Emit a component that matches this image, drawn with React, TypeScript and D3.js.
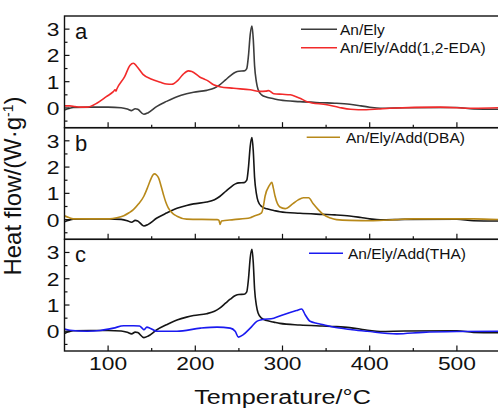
import React from "react";
import * as d3 from "d3";

// ---- data ----
const anEly: [number, number][] = [
  [50, -0.08], [55, -0.02], [60, 0.02], [80, 0.03], [100, 0.03], [115, 0.01], [122, -0.04],
  [127, -0.1], [131, -0.03], [134, -0.05], [141, -0.24], [146, -0.18], [156, 0.06], [167, 0.25],
  [179, 0.43], [190, 0.54], [198, 0.6], [213, 0.67], [222, 0.76], [228, 0.88], [235, 1.08],
  [240, 1.22], [246, 1.36], [250, 1.4], [256, 1.41], [259, 1.5], [261, 2.0], [263, 2.8],
  [265, 3.12], [266.5, 2.6], [268, 1.6], [270, 1.0], [272, 0.7], [276, 0.5], [282, 0.41],
  [290, 0.35], [297, 0.3], [320, 0.24], [346, 0.2], [360, 0.18], [377, 0.14], [390, 0.08],
  [400, 0.03], [412, -0.01], [440, 0.01], [500, 0.02], [519, -0.04], [550, -0.05],
];

const eda: [number, number][] = [
  [50, 0.08], [56, 0.08], [62, 0.05], [68, 0.03], [76, 0.03], [87, 0.18], [98, 0.43],
  [106, 0.62], [108, 0.69], [109, 0.64], [110, 0.72], [119, 1.19], [125, 1.62], [129, 1.7],
  [133, 1.58], [140, 1.28], [150, 1.09], [160, 0.98], [167, 0.91], [173, 0.9], [180, 1.05],
  [186, 1.28], [192, 1.41], [196, 1.39], [205, 1.18], [210, 1.1], [214, 1.04], [221, 0.88],
  [228, 0.81], [244, 0.75], [263, 0.69], [274, 0.63], [281, 0.64], [284, 0.66], [290, 0.54],
  [300, 0.52], [309, 0.5], [315, 0.44], [320, 0.37], [328, 0.24], [351, 0.12], [365, 0.02],
  [378, -0.05], [396, -0.07], [410, -0.04], [423, -0.01], [481, 0.03], [519, -0.01], [550, 0.01],
];

const dba: [number, number][] = [
  [50, 0.15], [55, 0.08], [60, 0.03], [102, 0.03], [110, 0.07], [118, 0.15], [124, 0.26],
  [129, 0.38], [135, 0.6], [141, 0.89], [145, 1.2], [148, 1.46], [151, 1.68], [153, 1.74],
  [155.5, 1.7], [158, 1.58], [161, 1.25], [163.5, 0.95], [166, 0.68], [169, 0.45], [174, 0.24],
  [179, 0.13], [190, 0.02], [225, 0.0], [227, -0.02], [228.5, -0.18], [230, -0.05], [244, 0.0],
  [263, 0.07], [267, 0.13], [276, 0.26], [278, 0.5], [280, 0.89], [285, 1.3], [287.7, 1.42],
  [289.5, 1.2], [291.5, 0.89], [297, 0.48], [303, 0.42], [312, 0.61], [318, 0.75], [324, 0.83],
  [330, 0.83], [335, 0.61], [341, 0.38], [347, 0.19], [355, 0.06], [362, 0.0], [377, -0.03],
  [404, -0.04], [430, 0.0], [450, 0.03], [519, 0.03], [550, 0.0],
];

const tha: [number, number][] = [
  [50, 0.09], [56, 0.04], [76, 0.0], [91, 0.03], [106, 0.12], [118, 0.21], [129, 0.21],
  [136, 0.2], [139, 0.12], [141, 0.06], [144.5, 0.16], [148, 0.12], [156, 0.0], [179, 0.0],
  [206, 0.12], [225, 0.16], [240, 0.12], [245.7, 0.0], [249.5, -0.22], [255, -0.13],
  [263, 0.12], [270.5, 0.38], [276, 0.44], [290, 0.5], [301, 0.63], [316, 0.79], [322, 0.85],
  [326, 0.63], [331.6, 0.38], [340, 0.3], [347, 0.25], [358, 0.16], [380, 0.06], [397, 0.0],
  [431, -0.1], [461, -0.04], [500, -0.01], [550, 0.0],
];

const xMajorTicks = [100, 200, 300, 400, 500];
const xMinorTicks = [150, 250, 350, 450];
const yMajorTicks = [0, 1, 2, 3];
const yMinorTicks = [-0.5, 0.5, 1.5, 2.5];

const panelLetters = ["a", "b", "c"];
const legendA = ["An/Ely", "An/Ely/Add(1,2-EDA)"];
const legendB = ["An/Ely/Add(DBA)"];
const legendC = ["An/Ely/Add(THA)"];

// ---- layout ----
const W = 498;
const H = 408;
const left = 64.5;
const right = 500.5;
const top = 16;
const bottom = 351;
const panelH = (bottom - top) / 3;
const FONT = "'Liberation Sans', Arial, Helvetica, sans-serif";

const x = d3.scaleLinear().domain([50, 550]).range([left, right]);
const makeY = (i: number) =>
  d3.scaleLinear().domain([-0.75, 3.5]).range([top + panelH * (i + 1), top + panelH * i]);

const COLORS = {
  anElyA: "#3c3c3c",
  anEly: "#151515",
  eda: "#f22a2a",
  dba: "#b8891a",
  tha: "#1a1af0",
};

function Panel({ i, series, legend }: { i: number; series: { data: [number, number][]; color: string }[]; legend: { label: string; color: string; x1: number; x2: number; tx: number; y: number }[] }) {
  const y = makeY(i);
  const y0 = top + panelH * i;
  const y1 = top + panelH * (i + 1);
  const line = d3
    .line<[number, number]>()
    .x((d) => x(d[0]))
    .y((d) => y(d[1]))
    .curve(d3.curveMonotoneX);
  const clipId = `clip${i}`;
  return (
    <g>
      <defs>
        <clipPath id={clipId}>
          <rect x={left} y={y0} width={right - left} height={y1 - y0} />
        </clipPath>
      </defs>
      <g clipPath={`url(#${clipId})`}>
        {series.map((s, k) => (
          <path key={k} d={line(s.data) || ""} fill="none" stroke={s.color} strokeWidth={1.6} strokeLinejoin="round" />
        ))}
      </g>
      <rect x={left} y={y0} width={right - left} height={y1 - y0} fill="none" stroke="#111" strokeWidth={1.4} />
      {xMajorTicks.map((t) => (
        <line key={"xM" + t} x1={x(t)} x2={x(t)} y1={y1} y2={y1 - 5.5} stroke="#111" strokeWidth={1.2} />
      ))}
      {xMinorTicks.map((t) => (
        <line key={"xm" + t} x1={x(t)} x2={x(t)} y1={y1} y2={y1 - 3} stroke="#111" strokeWidth={1.2} />
      ))}
      {yMajorTicks.map((t) => (
        <line key={"yM" + t} x1={left} x2={left + 5} y1={y(t)} y2={y(t)} stroke="#111" strokeWidth={1.2} />
      ))}
      {yMinorTicks.map((t) => (
        <line key={"ym" + t} x1={left} x2={left + 3} y1={y(t)} y2={y(t)} stroke="#111" strokeWidth={1.2} />
      ))}
      {yMajorTicks.map((t) => (
        <text
          key={"yl" + t}
          transform={`translate(${left - 5},${y(t) + 7}) scale(1.2,1)`}
          textAnchor="end"
          fontSize={19}
          fontFamily={FONT}
          fill="#111"
        >
          {t}
        </text>
      ))}
      <text x={75} y={y0 + 23} fontSize={22} fontFamily={FONT} fill="#111">
        {panelLetters[i]}
      </text>
      {legend.map((l, k) => (
        <g key={"lg" + k}>
          <line x1={l.x1} x2={l.x2} y1={l.y} y2={l.y} stroke={l.color} strokeWidth={1.6} />
          <text x={l.tx} y={l.y + 5.5} fontSize={15.5} fontFamily={FONT} fill="#111">
            {l.label}
          </text>
        </g>
      ))}
    </g>
  );
}

export default function App() {
  return (
    <svg width={W} height={H} style={{ position: "absolute", left: 0, top: 0, background: "#fff" }}>
      <rect width={W} height={H} fill="#fff" />
      <Panel
        i={0}
        series={[
          { data: anEly, color: COLORS.anElyA },
          { data: eda, color: COLORS.eda },
        ]}
        legend={[
          { label: legendA[0], color: COLORS.anElyA, x1: 301, x2: 337, tx: 340, y: 29.3 },
          { label: legendA[1], color: COLORS.eda, x1: 301, x2: 337, tx: 340, y: 47.7 },
        ]}
      />
      <Panel
        i={1}
        series={[
          { data: anEly, color: COLORS.anEly },
          { data: dba, color: COLORS.dba },
        ]}
        legend={[{ label: legendB[0], color: COLORS.dba, x1: 306.7, x2: 340, tx: 346, y: 137.3 }]}
      />
      <Panel
        i={2}
        series={[
          { data: anEly, color: COLORS.anEly },
          { data: tha, color: COLORS.tha },
        ]}
        legend={[{ label: legendC[0], color: COLORS.tha, x1: 309, x2: 343, tx: 348, y: 253.3 }]}
      />
      {xMajorTicks.map((t) => (
        <text
          key={"xl" + t}
          transform={`translate(${x(t)},${370}) scale(1.2,1)`}
          textAnchor="middle"
          fontSize={19}
          fontFamily={FONT}
          fill="#111"
        >
          {t}
        </text>
      ))}
      <text
        transform={`translate(${(left + right) / 2},${404}) scale(1.2,1)`}
        textAnchor="middle"
        fontSize={21}
        fontFamily={FONT}
        fill="#111"
      >
        Temperature/°C
      </text>
      <text
        transform={`translate(${21},${186}) rotate(-90)`}
        textAnchor="middle"
        fontSize={24}
        fontFamily={FONT}
        fill="#111"
      >
        Heat flow/(W·g
        <tspan baselineShift="super" fontSize={14}>
          -1
        </tspan>
        )
      </text>
    </svg>
  );
}
